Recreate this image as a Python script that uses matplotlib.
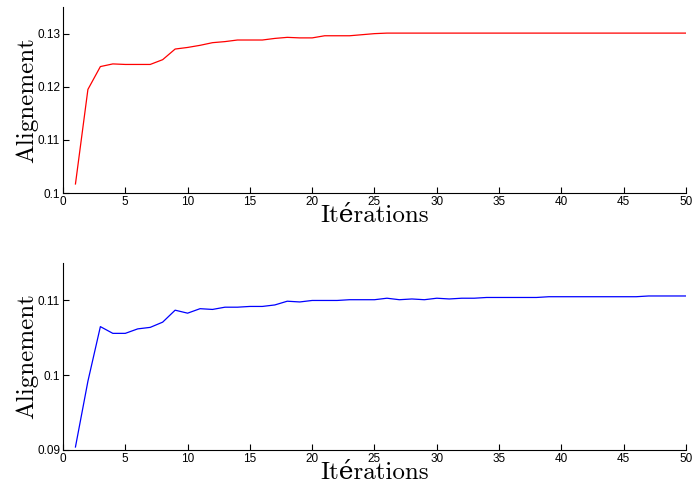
import numpy as np
import matplotlib.pyplot as plt

plt.rcParams['font.family'] = ['Liberation Sans', 'DejaVu Sans']

iterations = list(range(1, 51))

# alignment values, first run (red)
align_top = [0.1017, 0.1195, 0.1238, 0.1243, 0.1242, 0.1242, 0.1242, 0.1251, 0.1271, 0.1274,
             0.1278, 0.1283, 0.1285, 0.1288, 0.1288, 0.1288, 0.1291, 0.1293, 0.1292, 0.1292,
             0.1296, 0.1296, 0.1296, 0.1298, 0.1300, 0.1301, 0.1301, 0.1301, 0.1301, 0.1301,
             0.1301, 0.1301, 0.1301, 0.1301, 0.1301, 0.1301, 0.1301, 0.1301, 0.1301, 0.1301,
             0.1301, 0.1301, 0.1301, 0.1301, 0.1301, 0.1301, 0.1301, 0.1301, 0.1301, 0.1301]

# alignment values, second run (blue)
align_bottom = [0.0904, 0.0992, 0.1065, 0.1056, 0.1056, 0.1062, 0.1064, 0.1071, 0.1087, 0.1083,
                0.1089, 0.1088, 0.1091, 0.1091, 0.1092, 0.1092, 0.1094, 0.1099, 0.1098, 0.1100,
                0.1100, 0.1100, 0.1101, 0.1101, 0.1101, 0.1103, 0.1101, 0.1102, 0.1101, 0.1103,
                0.1102, 0.1103, 0.1103, 0.1104, 0.1104, 0.1104, 0.1104, 0.1104, 0.1105, 0.1105,
                0.1105, 0.1105, 0.1105, 0.1105, 0.1105, 0.1105, 0.1106, 0.1106, 0.1106, 0.1106]

label_font = ['cmr10', 'DejaVu Serif']

fig = plt.figure(figsize=(6.93, 4.88), dpi=100)
ax1 = fig.add_axes([0.0909, 0.6045, 0.899, 0.381])
ax2 = fig.add_axes([0.0909, 0.0779, 0.899, 0.383])


def style_axis(ax, ylim, yticks, ylabels):
    ax.set_xlim(0, 50)
    ax.set_ylim(*ylim)
    ax.set_xticks(range(0, 51, 5))
    ax.set_yticks(yticks)
    ax.set_yticklabels(ylabels)
    ax.spines['top'].set_visible(False)
    ax.spines['right'].set_visible(False)
    ax.tick_params(direction='in', length=4, labelsize=8.5, pad=2)
    ax.set_xlabel('Itérations', fontsize=18, family=label_font, labelpad=-2)
    ax.set_ylabel('Alignement', fontsize=18, family=label_font, labelpad=-1)


ax1.plot(iterations, align_top, color='red', linewidth=0.9)
style_axis(ax1, (0.1, 0.135), [0.1, 0.11, 0.12, 0.13], ['0.1', '0.11', '0.12', '0.13'])

ax2.plot(iterations, align_bottom, color='blue', linewidth=0.9)
style_axis(ax2, (0.09, 0.115), [0.09, 0.1, 0.11], ['0.09', '0.1', '0.11'])

fig.savefig('out.png', dpi=100)
